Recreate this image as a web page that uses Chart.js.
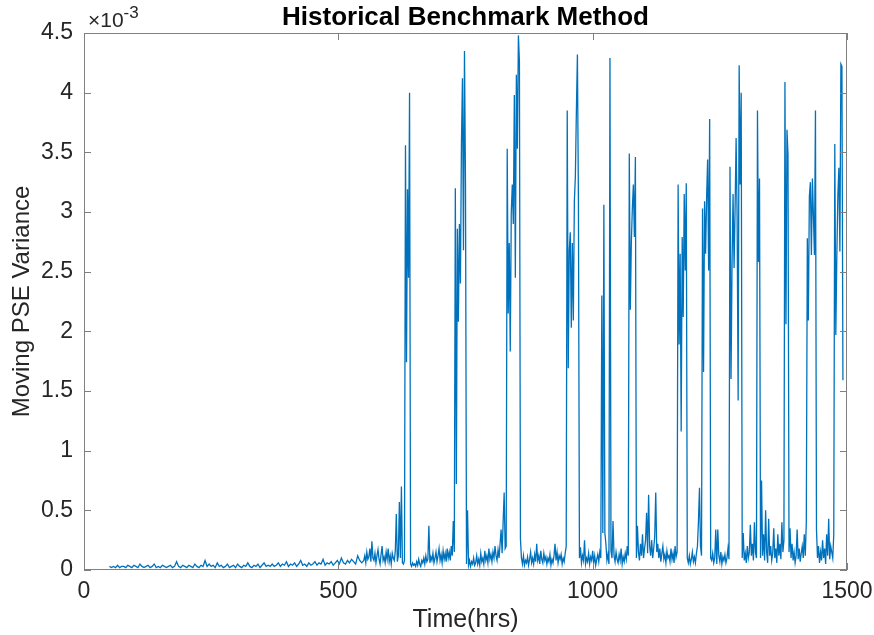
<!DOCTYPE html>
<html>
<head>
<meta charset="utf-8">
<script src="https://cdn.jsdelivr.net/npm/chart.js@4.4.1/dist/chart.umd.min.js"></script>
<style>
  html, body { margin: 0; padding: 0; background: #ffffff; }
  #wrap { width: 874px; height: 635px; }
</style>
</head>
<body>
<div id="wrap"><canvas id="c" width="874" height="635"></canvas></div>
<script>
// ---- Data (values in units of 1e-3) ----
const titleText = 'Historical Benchmark Method';
const xTitle = 'Time(hrs)';
const yTitle = 'Moving PSE Variance';
const xTickValues = [0, 500, 1000, 1500];
const xTickLabels = ['0', '500', '1000', '1500'];
const yTickLabels = ['0', '0.5', '1', '1.5', '2', '2.5', '3', '3.5', '4', '4.5'];

// Quiet period: hours 50..546, every 4 h
const quietStart = 50;
const quietStep = 4;
const quietValues = [
  0.03,0.02,0.03,0.02,0.04,0.02,0.03,0.03,0.02,0.04,
  0.03,0.02,0.04,0.03,0.02,0.05,0.03,0.02,0.03,0.04,
  0.02,0.03,0.05,0.02,0.03,0.02,0.04,0.03,0.02,0.03,
  0.04,0.02,0.03,0.07,0.03,0.02,0.04,0.03,0.02,0.04,
  0.03,0.02,0.05,0.03,0.02,0.04,0.03,0.08,0.03,0.05,
  0.03,0.04,0.02,0.06,0.03,0.04,0.02,0.03,0.05,0.02,
  0.03,0.04,0.02,0.05,0.03,0.02,0.04,0.03,0.06,0.03,
  0.02,0.04,0.03,0.05,0.02,0.04,0.06,0.03,0.04,0.03,
  0.05,0.03,0.04,0.06,0.03,0.05,0.04,0.07,0.03,0.05,
  0.04,0.06,0.03,0.05,0.08,0.04,0.05,0.03,0.06,0.04,
  0.05,0.07,0.04,0.06,0.05,0.09,0.04,0.06,0.05,0.07,
  0.04,0.06,0.08,0.05,0.10,0.06,0.05,0.08,0.06,0.09,
  0.07,0.05,0.12,0.08,0.06
];

// Active period: hours 550..1492, every 2 h
const activeStart = 550;
const activeStep = 2;
const activeValues = [
  0.08,0.12,0.06,0.15,0.09,0.11,0.18,0.07,0.24,0.10,
  0.08,0.14,0.06,0.12,0.17,0.09,0.05,0.13,0.20,0.08,
  0.11,0.06,0.15,0.09,0.18,0.07,0.12,0.05,0.14,0.10,
  0.08,0.16,0.47,0.07,0.12,0.57,0.10,0.70,0.06,0.05,
  0.08,3.56,1.74,3.19,2.45,4.00,0.05,0.03,0.06,0.04,
  0.05,0.03,0.07,0.04,0.09,0.05,0.03,0.08,0.06,0.10,
  0.05,0.12,0.07,0.09,0.37,0.06,0.11,0.08,0.14,0.06,
  0.10,0.15,0.07,0.12,0.18,0.08,0.13,0.06,0.16,0.09,
  0.14,0.07,0.18,0.10,0.15,0.08,0.20,0.12,0.41,0.15,
  3.20,0.72,2.86,2.08,2.90,2.40,3.56,4.12,2.68,4.35,
  3.23,0.05,0.50,0.04,0.08,0.03,0.07,0.05,0.10,0.04,
  0.06,0.12,0.05,0.09,0.04,0.14,0.07,0.10,0.05,0.16,
  0.08,0.12,0.06,0.18,0.09,0.13,0.07,0.15,0.10,0.20,
  0.12,0.08,0.17,0.10,0.22,0.34,0.14,0.40,0.65,0.18,
  0.20,3.53,2.15,2.74,1.83,3.00,3.23,2.90,3.98,2.45,
  4.15,3.53,4.48,4.26,0.26,0.10,0.05,0.12,0.04,0.08,
  0.06,0.11,0.04,0.09,0.15,0.06,0.10,0.05,0.13,0.07,
  0.22,0.08,0.12,0.05,0.16,0.09,0.06,0.14,0.08,0.11,
  0.05,0.10,0.07,0.13,0.04,0.09,0.06,0.12,0.22,0.08,
  0.15,0.06,0.12,0.09,0.13,0.05,0.10,0.07,0.14,0.20,
  3.85,1.69,2.68,2.83,2.03,2.74,2.09,3.09,3.30,3.85,
  4.32,3.09,0.10,0.19,0.06,0.12,0.08,0.25,0.05,0.10,
  0.07,0.14,0.05,0.11,0.08,0.16,0.06,0.12,0.04,0.09,
  0.13,0.07,0.15,0.10,2.30,0.31,3.06,0.31,0.22,0.08,
  0.13,0.05,4.29,0.16,0.10,0.41,0.12,0.07,0.15,0.09,
  0.06,0.13,0.08,0.18,0.05,0.11,0.07,0.14,0.09,0.20,
  0.12,3.49,2.18,2.74,3.03,3.23,2.79,3.46,0.10,0.37,
  0.15,0.08,0.22,0.12,0.30,0.10,0.18,0.25,0.48,0.14,
  0.63,0.20,0.12,0.25,0.10,0.18,0.28,0.65,0.15,0.22,
  0.10,0.18,0.07,0.14,0.20,0.09,0.13,0.06,0.16,0.10,
  0.12,0.07,0.18,0.09,0.14,0.06,0.20,0.11,0.15,3.23,
  1.89,2.65,1.16,2.79,2.12,3.15,2.51,3.24,0.10,0.06,
  0.12,0.05,0.09,0.15,0.07,0.11,0.06,0.14,0.20,0.41,
  0.69,0.20,0.12,3.03,1.66,3.09,2.65,3.12,3.44,2.51,
  3.78,0.10,0.08,0.14,0.06,0.10,0.34,0.05,0.34,0.12,
  0.07,0.15,0.05,0.11,0.08,0.13,0.06,0.10,0.18,0.09,
  3.38,1.60,2.56,3.15,2.53,3.03,3.62,2.95,1.42,4.23,
  3.23,4.00,0.10,0.31,0.08,0.14,0.06,0.20,0.10,0.15,
  0.38,0.12,0.22,0.08,0.40,0.15,0.10,3.85,2.58,3.28,
  0.10,0.75,0.12,0.30,0.08,0.50,0.15,0.06,0.43,0.12,
  0.20,0.08,0.14,0.35,0.10,0.18,0.06,0.30,0.12,0.22,
  0.09,0.40,0.15,0.25,4.09,2.06,3.69,3.48,0.15,0.35,
  0.10,0.22,0.08,0.15,0.06,0.12,0.34,0.09,0.18,0.07,
  0.14,0.20,0.10,0.30,0.12,0.40,2.78,2.09,3.13,3.25,
  2.64,3.28,2.96,2.64,3.85,0.34,0.10,0.20,0.06,0.15,
  0.08,0.25,0.10,0.18,0.05,0.30,0.12,0.43,0.09,0.20,
  0.15,0.10,0.30,3.57,1.97,2.64,3.13,3.37,2.67,4.24,
  4.22,1.59
];

// ---- Build points ----
const points = [];
quietValues.forEach((v, i) => points.push({ x: quietStart + i * quietStep, y: v }));
activeValues.forEach((v, i) => points.push({ x: activeStart + i * activeStep, y: v }));

const FONT = '"Liberation Sans", Arial, Helvetica, sans-serif';
const TEXT = '#262626';
const AXIS = '#808080';

const framePlugin = {
  id: 'frame',
  afterDraw(chart) {
    const { ctx, chartArea: a, scales } = chart;
    const xs = scales.x, ys = scales.y;
    ctx.save();
    ctx.strokeStyle = AXIS;
    ctx.lineWidth = 1;
    ctx.strokeRect(Math.round(a.left) + 0.5, Math.round(a.top) + 0.5,
                   Math.round(a.right - a.left) - 1, Math.round(a.bottom - a.top) - 1);
    const L = 7;
    ctx.beginPath();
    xs.ticks.forEach(t => {
      const p = Math.round(xs.getPixelForValue(t.value)) + 0.5;
      ctx.moveTo(p, a.bottom); ctx.lineTo(p, a.bottom - L);
      ctx.moveTo(p, a.top); ctx.lineTo(p, a.top + L);
    });
    ys.ticks.forEach(t => {
      const p = Math.round(ys.getPixelForValue(t.value)) + 0.5;
      ctx.moveTo(a.left, p); ctx.lineTo(a.left + L, p);
      ctx.moveTo(a.right, p); ctx.lineTo(a.right - L, p);
    });
    ctx.stroke();

    // Title
    ctx.fillStyle = '#000000';
    ctx.font = 'bold 26px ' + FONT;
    ctx.textAlign = 'center';
    ctx.textBaseline = 'alphabetic';
    ctx.fillText(titleText, (a.left + a.right) / 2, 25);

    // Exponent label
    ctx.fillStyle = TEXT;
    ctx.textAlign = 'left';
    ctx.font = '21px ' + FONT;
    const base = '\u00d710';
    ctx.fillText(base, a.left + 4, 27);
    const w = ctx.measureText(base).width;
    ctx.font = '17px ' + FONT;
    ctx.fillText('-3', a.left + 4 + w, 18);
    ctx.restore();
  }
};

new Chart(document.getElementById('c'), {
  type: 'line',
  data: {
    datasets: [{
      data: points,
      borderColor: '#0072BD',
      borderWidth: 1.3,
      pointRadius: 0,
      tension: 0,
      fill: false
    }]
  },
  options: {
    responsive: false,
    animation: false,
    devicePixelRatio: 1,
    layout: { padding: { left: 0, right: 27, top: 33, bottom: 0 } },
    plugins: { legend: { display: false }, tooltip: { enabled: false }, title: { display: false } },
    scales: {
      x: {
        type: 'linear',
        min: 0, max: 1500,
        afterBuildTicks(s) { s.ticks = xTickValues.map(v => ({ value: v })); },
        afterFit(s) { s.height = 65; s.paddingLeft = 0; s.paddingRight = 0; },
        grid: { display: false, drawTicks: false },
        border: { display: false },
        ticks: {
          color: TEXT, font: { family: FONT, size: 23 }, padding: 8, maxRotation: 0, autoSkip: false,
          callback(v, i) { return xTickLabels[i]; }
        },
        title: { display: true, text: xTitle, color: TEXT, font: { family: FONT, size: 25 }, padding: { top: 0, bottom: 0 } }
      },
      y: {
        type: 'linear',
        min: 0, max: 4.5,
        afterBuildTicks(s) { s.ticks = yTickLabels.map(l => ({ value: parseFloat(l) })); },
        afterFit(s) { s.width = 84; s.paddingTop = 0; s.paddingBottom = 0; },
        grid: { display: false, drawTicks: false },
        border: { display: false },
        ticks: {
          color: TEXT, font: { family: FONT, size: 23 }, padding: 11, autoSkip: false,
          callback(v, i) { return yTickLabels[i]; }
        },
        title: { display: true, text: yTitle, color: TEXT, font: { family: FONT, size: 24 }, padding: { top: 8, bottom: 0 } }
      }
    }
  },
  plugins: [framePlugin]
});
</script>
</body>
</html>
